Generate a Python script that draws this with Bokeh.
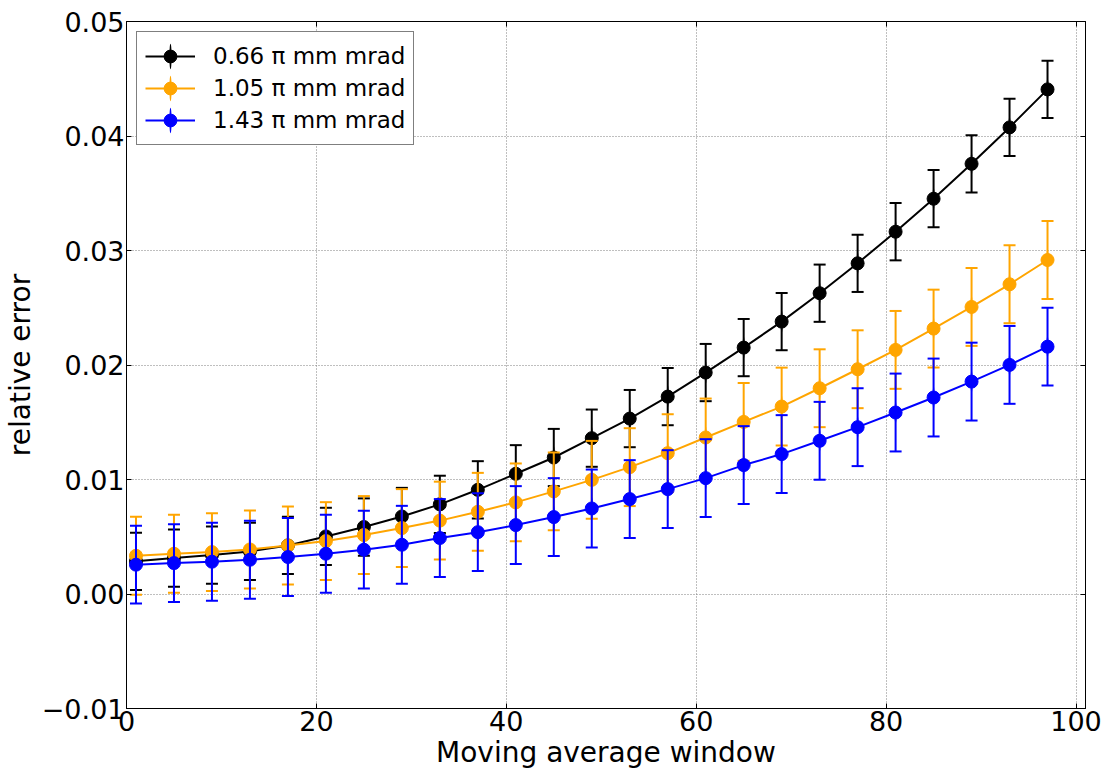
from bokeh.plotting import figure
from bokeh.models import (ColumnDataSource, Range1d, FixedTicker, LinearAxis, Legend,
                          LegendItem, CustomJSTickFormatter, CustomLabelingPolicy)
from bokeh.embed import file_html
from bokeh.resources import INLINE

# ---------------- data ----------------
window = [1, 5, 9, 13, 17, 21, 25, 29, 33, 37, 41, 45, 49, 53, 57, 61, 65, 69, 73, 77, 81, 85, 89, 93, 97]

err_066 = [0.00285, 0.00314, 0.00340, 0.00372, 0.00424, 0.00503, 0.00585, 0.00677, 0.00783,
           0.00910, 0.01050, 0.01192, 0.01361, 0.01532, 0.01724, 0.01934, 0.02152, 0.02379,
           0.02627, 0.02888, 0.03164, 0.03452, 0.03757, 0.04075, 0.04407]
sd_066 = [0.0025, 0.0025, 0.0025, 0.0025, 0.0025, 0.0025, 0.0025, 0.0025, 0.0025,
          0.0025, 0.0025, 0.0025, 0.0025, 0.0025, 0.0025, 0.0025, 0.0025, 0.0025,
          0.0025, 0.0025, 0.0025, 0.0025, 0.0025, 0.0025, 0.0025]

err_105 = [0.00334, 0.00352, 0.00366, 0.00389, 0.00424, 0.00462, 0.00515, 0.00576, 0.00641,
           0.00718, 0.00800, 0.00896, 0.00997, 0.01108, 0.01230, 0.01367, 0.01503, 0.01637,
           0.01797, 0.01963, 0.02132, 0.02318, 0.02507, 0.02705, 0.02917]
sd_105 = [0.0034, 0.0034, 0.0034, 0.0034, 0.0034, 0.0034, 0.0034, 0.0034, 0.0034,
          0.0034, 0.0034, 0.0034, 0.0034, 0.0034, 0.0034, 0.0034, 0.0034, 0.0034,
          0.0034, 0.0034, 0.0034, 0.0034, 0.0034, 0.0034, 0.0034]

err_143 = [0.00256, 0.00270, 0.00282, 0.00299, 0.00323, 0.00352, 0.00387, 0.00430, 0.00489,
           0.00540, 0.00602, 0.00672, 0.00747, 0.00829, 0.00916, 0.01012, 0.01126, 0.01222,
           0.01338, 0.01457, 0.01585, 0.01716, 0.01855, 0.02001, 0.02160]
sd_143 = [0.0034, 0.0034, 0.0034, 0.0034, 0.0034, 0.0034, 0.0034, 0.0034, 0.0034,
          0.0034, 0.0034, 0.0034, 0.0034, 0.0034, 0.0034, 0.0034, 0.0034, 0.0034,
          0.0034, 0.0034, 0.0034, 0.0034, 0.0034, 0.0034, 0.0034]

series_labels = ["0.66 \u03c0 mm mrad", "1.05 \u03c0 mm mrad", "1.43 \u03c0 mm mrad"]
series_colors = ["black", "orange", "blue"]

x_ticks = [0, 20, 40, 60, 80, 100]
y_ticks = [-0.01, 0.0, 0.01, 0.02, 0.03, 0.04, 0.05]

FONT = "DejaVu Sans"

# ---------------- figure ----------------
p = figure(width=1116, height=771, output_backend="svg", toolbar_location=None,
           x_range=Range1d(0, 101), y_range=Range1d(-0.01, 0.05),
           min_border_left=123, min_border_right=30, min_border_top=21, min_border_bottom=62)
p.background_fill_color = "white"
p.border_fill_color = "white"
p.outline_line_color = "black"
p.outline_line_width = 1

# axes
for ax in (p.xaxis[0], p.yaxis[0]):
    ax.major_tick_in = 5
    ax.major_tick_out = 0
    ax.minor_tick_in = 0
    ax.minor_tick_out = 0
    ax.major_tick_line_color = "black"
    ax.axis_line_color = "black"
    ax.major_label_text_font = FONT
    ax.major_label_text_font_size = "27px"
    ax.major_label_text_color = "black"
    ax.axis_label_text_font = FONT
    ax.axis_label_text_font_size = "28px"
    ax.axis_label_text_font_style = "normal"
    ax.axis_label_text_color = "black"

p.xaxis.ticker = FixedTicker(ticks=x_ticks)
p.yaxis.ticker = FixedTicker(ticks=y_ticks)
p.yaxis.formatter = CustomJSTickFormatter(
    code="return (tick < -1e-9 ? '\u2212' : '') + Math.abs(tick).toFixed(2);")
p.xaxis.axis_label = "Moving average window"
p.yaxis.axis_label = "relative error"
p.xaxis.major_label_standoff = 2
p.yaxis.major_label_standoff = 2
p.xaxis.axis_label_standoff = 2
p.yaxis.axis_label_standoff = 2

no_labels = CustomLabelingPolicy(
    code="for (let i = 0; i < indices.size; i++) { indices.unset(i) } return indices")
top_ax = LinearAxis(ticker=FixedTicker(ticks=x_ticks), major_tick_in=5, major_tick_out=0,
                    minor_tick_in=0, minor_tick_out=0, major_label_policy=no_labels,
                    major_label_standoff=0, axis_line_color="black")
right_ax = LinearAxis(ticker=FixedTicker(ticks=y_ticks), major_tick_in=5, major_tick_out=0,
                      minor_tick_in=0, minor_tick_out=0, major_label_policy=no_labels,
                      major_label_standoff=0, axis_line_color="black")
p.add_layout(top_ax, "above")
p.add_layout(right_ax, "right")

# grid
for g in (p.xgrid[0], p.ygrid[0]):
    g.grid_line_color = "#7f7f7f"
    g.grid_line_width = 1
    g.grid_line_dash = "1 2"
p.xgrid.ticker = FixedTicker(ticks=x_ticks)
p.ygrid.ticker = FixedTicker(ticks=y_ticks)

# ---------------- series ----------------
items = []
for vals, sds, color, label in zip([err_066, err_105, err_143], [sd_066, sd_105, sd_143],
                                   series_colors, series_labels):
    lo = [v - s for v, s in zip(vals, sds)]
    hi = [v + s for v, s in zip(vals, sds)]
    src = ColumnDataSource(data=dict(x=window, y=vals, lo=lo, hi=hi))
    # thin vertical ellipse hidden inside the error bar stem; gives the legend its error bar
    bar = p.ellipse(x="x", y="y", source=src, width=2, height=23,
                    width_units="screen", height_units="screen",
                    fill_color=color, line_color=None)
    p.segment(x0="x", y0="lo", x1="x", y1="hi", source=src, line_color=color, line_width=2)
    p.scatter(x="x", y="hi", source=src, marker="dash", size=12, line_color=color, line_width=2)
    p.scatter(x="x", y="lo", source=src, marker="dash", size=12, line_color=color, line_width=2)
    ln = p.line(x="x", y="y", source=src, line_color=color, line_width=2)
    mk = p.scatter(x="x", y="y", source=src, marker="circle", size=13,
                   fill_color=color, line_color=color, line_width=1)
    items.append(LegendItem(label=label, renderers=[ln, bar, mk]))

legend = Legend(items=items, location="top_left", margin=10, padding=8, spacing=0,
                glyph_width=50, glyph_height=32, label_standoff=18,
                label_text_font=FONT, label_text_font_size="23px",
                label_text_color="black", label_text_baseline="middle",
                border_line_color="black", border_line_width=1,
                background_fill_color="white", background_fill_alpha=1.0)
p.add_layout(legend)

open("out.html", "w").write(file_html(p, INLINE))
